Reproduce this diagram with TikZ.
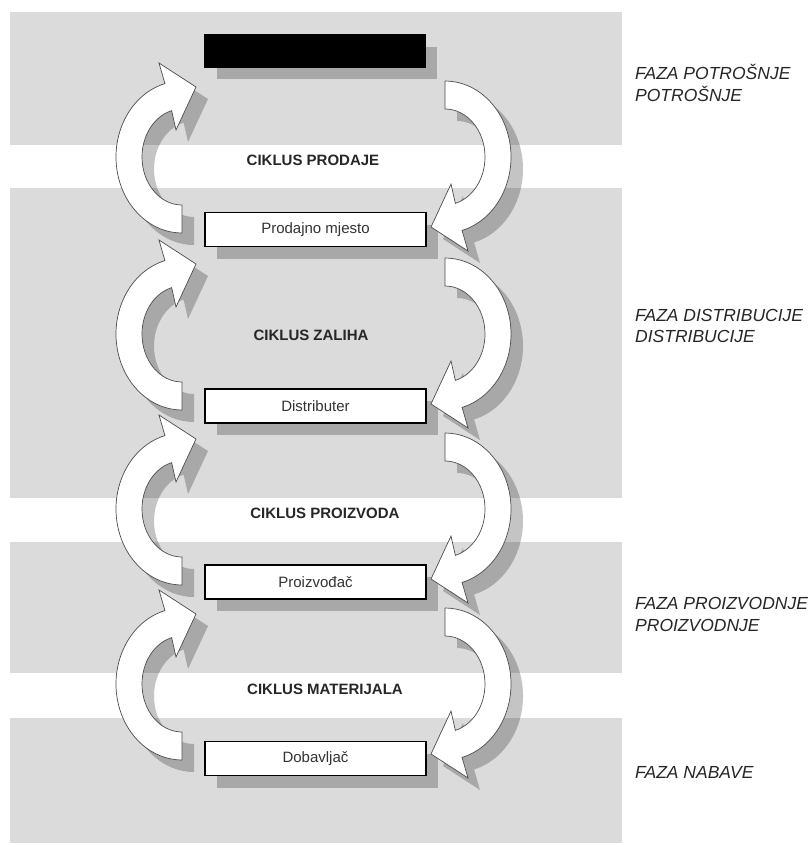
\documentclass[tikz,border=0pt]{standalone}
\usepackage{fontspec}
\setmainfont{Liberation Sans}
\usetikzlibrary{shadows}

\begin{document}
\begin{tikzpicture}[x=1pt,y=1pt]
\tikzstyle{every node}+=[inner sep=0pt]
\tikzstyle{pojas}=[fill=black!14]
\tikzstyle{kutija}=[draw=black, line width=1.2pt, fill=white, minimum width=221pt, minimum height=34pt, font=\fontsize{15}{18}\selectfont, text=black!80, drop shadow={shadow xshift=12pt, shadow yshift=-12pt, fill=black, opacity=.23}]
\tikzstyle{crnakutija}=[kutija, fill=black, minimum width=220pt, minimum height=32pt]
\tikzstyle{ciklus}=[font=\bfseries\fontsize{15}{18}\selectfont, text=black!85]
\tikzstyle{faza}=[anchor=base west, align=left, font=\itshape\fontsize{17.5}{21.5}\selectfont, text=black!85]
\tikzstyle{strelica}=[draw=black!70, line width=0.7pt, fill=white]
\tikzstyle{sjena}=[fill=black, fill opacity=.23]
\tikzstyle{strelicaput}=[insert path={(0,-76) -- (0,-48) arc [start angle=270, end angle=105, x radius=40, y radius=48] -- (-6,27) -- (14,70) -- (-23,94) -- (-17.08,73.41) arc [start angle=105, end angle=270, x radius=66, y radius=76] -- cycle}]
\useasboundingbox (0,0) rectangle (809,-844);
% sivi pojasevi faza
\fill [pojas] (10,-12) rectangle (622,-145);
\fill [pojas] (10,-188) rectangle (622,-498);
\fill [pojas] (10,-542) rectangle (622,-673);
\fill [pojas] (10,-718) rectangle (622,-843);
% sjene strelica
\foreach \x/\y/\r in {182/-157/0, 182/-334/0, 182/-509/0, 182/-684/0, 445/-157/180, 445/-334/180, 445/-509/180, 445/-684/180}
  \fill [sjena, shift={(\x+12,\y-12)}, rotate=\r, strelicaput];
% kutije
\node [crnakutija] (kupac) at (315,-51) {};
\node [kutija] (prodaja) at (315.5,-229.5) {Prodajno mjesto};
\node [kutija] (distributer) at (315.5,-406) {Distributer};
\node [kutija] (proizvodac) at (315.5,-582) {Proizvođač};
\node [kutija] (dobavljac) at (315.5,-758.5) {Dobavljač};
% strelice
\foreach \x/\y/\r in {182/-157/0, 182/-334/0, 182/-509/0, 182/-684/0, 445/-157/180, 445/-334/180, 445/-509/180, 445/-684/180}
  \draw [strelica, shift={(\x,\y)}, rotate=\r, strelicaput];
% ciklusi
\node [ciklus] (cprodaje) at (313,-160) {CIKLUS PRODAJE};
\node [ciklus] (czaliha) at (311,-335) {CIKLUS ZALIHA};
\node [ciklus] (cproizvoda) at (325,-513) {CIKLUS PROIZVODA};
\node [ciklus] (cmaterijala) at (325,-689) {CIKLUS MATERIJALA};
% faze (bazna linija = zadnji red)
\node [faza] (fpotrosnja) at (635,-101) {FAZA POTROŠNJE\\POTROŠNJE};
\node [faza] (fdistribucija) at (635,-342.5) {FAZA DISTRIBUCIJE\\DISTRIBUCIJE};
\node [faza] (fproizvodnja) at (635,-631) {FAZA PROIZVODNJE\\PROIZVODNJE};
\node [faza] (fnabava) at (635,-778) {FAZA NABAVE};
\end{tikzpicture}
\end{document}
